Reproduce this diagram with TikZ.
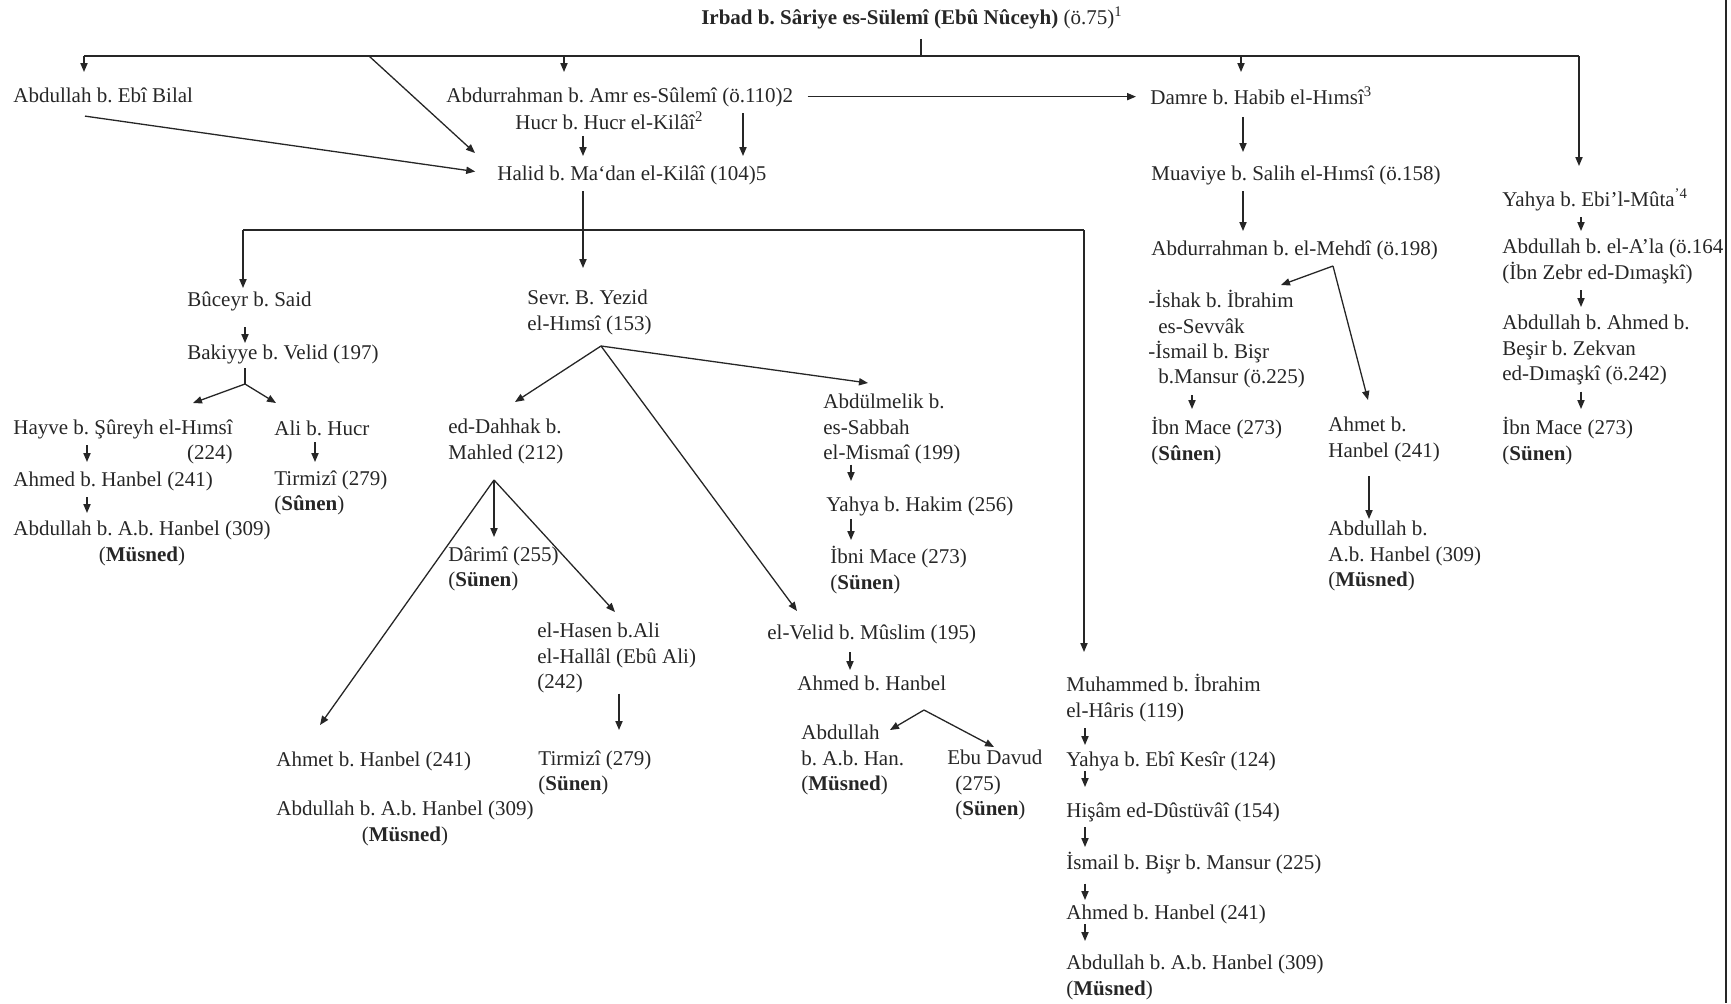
\documentclass[tikz,border=0pt]{standalone}
\usepackage{fontspec}
\setmainfont{Liberation Serif}
\usetikzlibrary{arrows.meta,calc}
\frenchspacing

\newcommand{\kitap}[1]{(\textbf{#1})}

\tikzset{
  ravi/.style={inner sep=0pt, anchor=north west, align=left, text=black!85,
    font=\fontsize{10.5}{12.7}\selectfont,
    execute at begin node={\rule{0pt}{8pt}}},
  ln/.style={line width=0.65pt, draw=black!85},
  arr/.style={ln, -{Triangle[length=4.5pt,width=3.6pt]}},
  varr/.style={arr, shorten <=3pt, shorten >=4pt}
}

\begin{document}
\begin{tikzpicture}[x=0.5pt,y=-0.5pt]
\useasboundingbox (0,0) rectangle (1731,1003);

% narrators
\node[ravi, anchor=north] (irbad) at (912,6) {\textbf{Irbad b. Sâriye es-Sülemî (Ebû Nûceyh)} (ö.75)\textsuperscript{1}};
\node[ravi] (ebiBilal) at (13,86) {Abdullah b. Ebî Bilal};
\node[ravi] (amr) at (446,86) {Abdurrahman b. Amr es-Sûlemî (ö.110)2};
\node[ravi] (hucr) at (515,111) {Hucr b. Hucr el-Kilâî\textsuperscript{2}};
\node[ravi] (damre) at (1150,86) {Damre b. Habib el-Hımsî\textsuperscript{3}};
\node[ravi] (halid) at (497,164) {Halid b. Ma‘dan el-Kilâî (104)5};
\node[ravi] (muaviye) at (1151,164) {Muaviye b. Salih el-Hımsî (ö.158)};
\node[ravi] (mute) at (1502,188) {Yahya b. Ebi’l-Mûta\textsuperscript{’4}};
\node[ravi] (mehdi) at (1151,239) {Abdurrahman b. el-Mehdî (ö.198)};
\node[ravi] (aala) at (1502,239) {Abdullah b. el-A’la (ö.164\\(İbn Zebr ed-Dımaşkî)};
\node[ravi] (buceyr) at (187,290) {Bûceyr b. Said};
\node[ravi] (sevr) at (527,290) {Sevr. B. Yezid\\el-Hımsî (153)};
\node[ravi] (ishak) at (1148,290) {-İshak b. İbrahim\\\hspace*{5pt}es-Sevvâk\\-İsmail b. Bişr\\\hspace*{5pt}b.Mansur (ö.225)};
\node[ravi] (zekvan) at (1502,315) {Abdullah b. Ahmed b.\\Beşir b. Zekvan\\ed-Dımaşkî (ö.242)};
\node[ravi] (bakiyye) at (187,343) {Bakiyye b. Velid (197)};
\node[ravi] (abdulmelik) at (823,394) {Abdülmelik b.\\es-Sabbah\\el-Mismaî (199)};
\node[ravi, align=right] (hayve) at (13,419) {Hayve b. Şûreyh el-Hımsî\\(224)};
\node[ravi] (aliHucr) at (274,419) {Ali b. Hucr};
\node[ravi] (dahhak) at (448,419) {ed-Dahhak b.\\Mahled (212)};
\node[ravi] (ibnMaceA) at (1151,417) {İbn Mace (273)\\\kitap{Sûnen}};
\node[ravi] (ahmetA) at (1328,417) {Ahmet b.\\Hanbel (241)};
\node[ravi] (ibnMaceB) at (1502,417) {İbn Mace (273)\\\kitap{Sünen}};
\node[ravi] (ahmedA) at (13,470) {Ahmed b. Hanbel (241)};
\node[ravi] (tirmiziA) at (274,470) {Tirmizî (279)\\\kitap{Sûnen}};
\node[ravi] (yahyaHakim) at (826,495) {Yahya b. Hakim (256)};
\node[ravi, align=center] (abdullahA) at (13,521) {Abdullah b. A.b. Hanbel (309)\\\kitap{Müsned}};
\node[ravi] (abdullahB) at (1328,521) {Abdullah b.\\A.b. Hanbel (309)\\\kitap{Müsned}};
\node[ravi] (darimi) at (448,546) {Dârimî (255)\\\kitap{Sünen}};
\node[ravi] (ibniMace) at (830,546) {İbni Mace (273)\\\kitap{Sünen}};
\node[ravi] (hasen) at (537,623) {el-Hasen b.Ali\\el-Hallâl (Ebû Ali)\\(242)};
\node[ravi] (velid) at (767,623) {el-Velid b. Mûslim (195)};
\node[ravi] (ahmedB) at (797,674) {Ahmed b. Hanbel};
\node[ravi] (muhammed) at (1066,674) {Muhammed b. İbrahim\\el-Hâris (119)};
\node[ravi] (abdullahC) at (801,725) {Abdullah\\b. A.b. Han.\\\kitap{Müsned}};
\node[ravi] (ahmetC) at (276,750) {Ahmet b. Hanbel (241)};
\node[ravi] (tirmiziB) at (538,750) {Tirmizî (279)\\\kitap{Sünen}};
\node[ravi] (ebuDavud) at (947,750) {Ebu Davud\\\hspace*{4pt}(275)\\\hspace*{4pt}\kitap{Sünen}};
\node[ravi] (kesir) at (1066,750) {Yahya b. Ebî Kesîr (124)};
\node[ravi, align=center] (abdullahD) at (276,801) {Abdullah b. A.b. Hanbel (309)\\\kitap{Müsned}};
\node[ravi] (hisam) at (1066,801) {Hişâm ed-Dûstüvâî (154)};
\node[ravi] (ismail) at (1066,852) {İsmail b. Bişr b. Mansur (225)};
\node[ravi] (ahmedC) at (1066,903) {Ahmed b. Hanbel (241)};
\node[ravi] (abdullahE) at (1066,955) {Abdullah b. A.b. Hanbel (309)\\\kitap{Müsned}};
%
% branching points
\coordinate (barL) at (84,56);
\coordinate (barR) at (1579,56);
\coordinate (barM) at (921,56);
\coordinate (barA) at (564,56);
\coordinate (barD) at (1241,56);
\coordinate (barX) at (369,56);
\coordinate (forkL) at (243,230);
\coordinate (forkR) at (1084,230);
\coordinate (mehdiV) at (1333,266);
\coordinate (bakiyyeV) at (245,384);
\coordinate (sevrV) at (601,346);
\coordinate (dahhakV) at (494,480);
\coordinate (ahmedV) at (924,710);
%
% bars
\draw[ln] (barL) -- (barR);
\draw[ln, shorten <=5pt] (irbad.south -| barM) -- (barM);
\draw[ln] (forkL) -- (forkR);
\draw[ln] (1726,0) -- (1726,1003);
%
% arrows from the top bar
\draw[arr, shorten >=7pt] (barL) -- (barL |- ebiBilal.north);
\draw[arr, shorten >=7pt] (barA) -- (barA |- amr.north);
\draw[arr, shorten >=7pt] (barD) -- (barD |- damre.north);
\draw[arr, shorten >=11pt] (barR) -- (barR |- mute.north);
\draw[arr] (barX) -- ($(halid.north west)+(-22,-11)$);
\draw[arr, shorten >=11pt] ($(ebiBilal.south west)+(72,13)$) -- (halid.west);
\draw[arr, shorten <=7pt, shorten >=7pt] (amr.east) -- (amr.east -| damre.west);
%
% vertical arrows
\draw[varr] (583,0 |- hucr.south) -- (583,0 |- halid.north);
\draw[varr] (743,0 |- amr.south) -- (743,0 |- halid.north);
\draw[arr, shorten <=3pt, shorten >=11pt] (583,0 |- halid.south) -- (583,0 |- sevr.north);
\draw[arr, shorten >=1pt] (forkL) -- (forkL |- buceyr.north);
\draw[arr, shorten >=11pt] (forkR) -- (forkR |- muhammed.north);
\draw[arr, shorten <=6pt, shorten >=6pt] (1243,0 |- damre.south) -- (1243,0 |- muaviye.north);
\draw[varr] (1243,0 |- muaviye.south) -- (1243,0 |- mehdi.north);
\draw[varr] (1581,0 |- mute.south) -- (1581,0 |- aala.north);
\draw[varr] (1581,0 |- aala.south) -- (1581,0 |- zekvan.north);
\draw[varr] (1581,0 |- zekvan.south) -- (1581,0 |- ibnMaceB.north);
\draw[varr] (1192,0 |- ishak.south) -- (1192,0 |- ibnMaceA.north);
\draw[arr, shorten <=7pt, shorten >=1pt] (1369,0 |- ahmetA.south) -- (1369,0 |- abdullahB.north);
\draw[arr, shorten <=8pt] (245,0 |- buceyr.south) -- (245,0 |- bakiyye.north);
\draw[arr, shorten >=4pt] ($(87,0 |- hayve.north)+(0,26)$) -- (87,0 |- ahmedA.north);
\draw[varr] (315,0 |- aliHucr.south) -- (315,0 |- tirmiziA.north);
\draw[varr] (87,0 |- ahmedA.south) -- (87,0 |- abdullahA.north);
\draw[arr, shorten >=7pt] (851,0 |- abdulmelik.south) -- (851,0 |- yahyaHakim.north);
\draw[arr, shorten <=1.5pt, shorten >=3pt] (851,0 |- yahyaHakim.south) -- (851,0 |- ibniMace.north);
\draw[arr, shorten >=4.5pt] (dahhakV) -- (dahhakV |- darimi.north);
\draw[arr, shorten >=10pt] (619,0 |- hasen.south) -- (619,0 |- tirmiziB.north);
\draw[arr, shorten <=4pt, shorten >=2pt] (850,0 |- velid.south) -- (850,0 |- ahmedB.north);
\draw[arr, shorten <=3pt, shorten >=2.5pt] (1085,0 |- muhammed.south) -- (1085,0 |- kesir.north);
\draw[arr, shorten >=7pt] (1085,0 |- kesir.south) -- (1085,0 |- hisam.north);
\draw[arr, shorten <=2.5pt, shorten >=2.5pt] (1085,0 |- hisam.south) -- (1085,0 |- ismail.north);
\draw[arr, shorten <=4.5pt, shorten >=1.5pt] (1085,0 |- ismail.south) -- (1085,0 |- ahmedC.north);
\draw[arr, shorten >=7pt] (1085,0 |- ahmedC.south) -- (1085,0 |- abdullahE.north);
%
% forks
\draw[arr] (mehdiV) -- ($(ishak.north west)+(133,-5)$);
\draw[arr] (mehdiV) -- ($(ahmetA.north west)+(40,-17)$);
\draw[ln, shorten <=2pt] (245,0 |- bakiyye.south) -- (bakiyyeV);
\draw[arr] (bakiyyeV) -- ($(hayve.north west)+(180,-16)$);
\draw[arr] (bakiyyeV) -- ($(aliHucr.north west)+(2,-16)$);
\draw[arr] (sevrV) -- ($(dahhak.north west)+(67,-17)$);
\draw[arr] (sevrV) -- ($(abdulmelik.north west)+(45,-11)$);
\draw[arr] (sevrV) -- ($(velid.north west)+(30,-12)$);
\draw[arr] (dahhakV) -- ($(ahmetC.north west)+(44,-25)$);
\draw[arr] (dahhakV) -- ($(hasen.north west)+(78,-11)$);
\draw[arr] (ahmedV) -- ($(abdullahC.north west)+(89,5)$);
\draw[arr] (ahmedV) -- ($(ebuDavud.north west)+(47,-3)$);
\end{tikzpicture}
\end{document}
